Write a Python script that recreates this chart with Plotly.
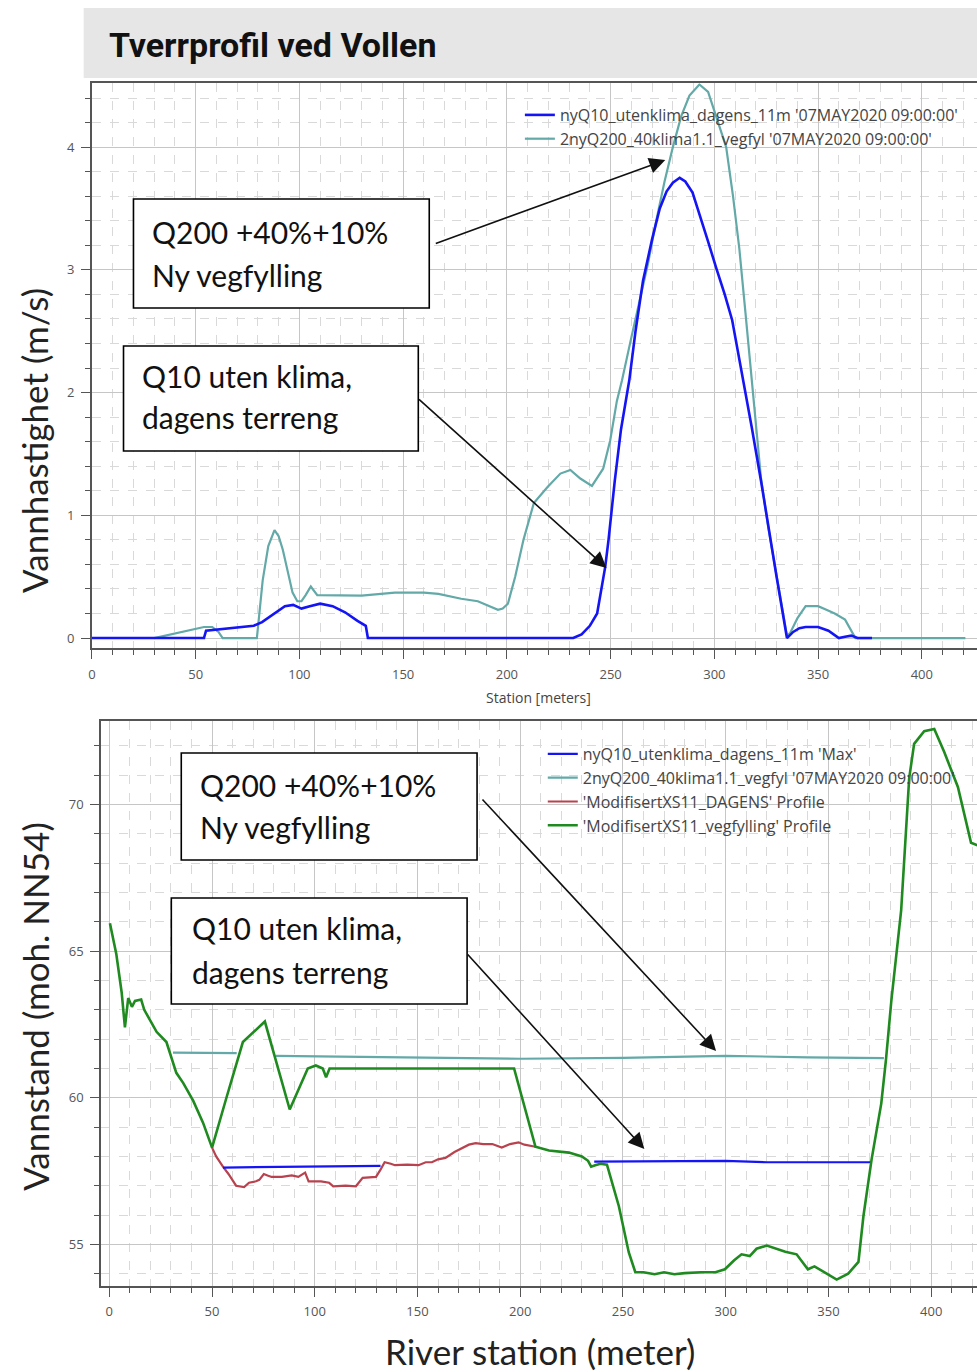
import plotly.graph_objects as go

# ---------------- Top chart: velocity across section ----------------
top_q10_station = [0, 54, 55, 60, 70, 78, 82, 88, 93, 97, 101, 105, 110, 116, 122, 128, 132, 133,
                   232, 236, 240, 243.5, 247.4, 249, 252, 255, 259, 262, 265.6, 270, 273.7, 277, 280,
                   283.3, 286, 289.5, 293, 297, 301, 305, 308.6, 314, 318, 322.5, 326, 330, 333, 335,
                   338, 341, 344, 350, 355, 360, 363, 366, 369, 376]
top_q10_velocity = [0, 0, 0.06, 0.07, 0.09, 0.10, 0.13, 0.20, 0.26, 0.27, 0.24, 0.26, 0.28, 0.26, 0.21,
                    0.14, 0.10, 0,
                    0, 0.03, 0.10, 0.20, 0.58, 0.80, 1.28, 1.70, 2.10, 2.50, 2.91, 3.25, 3.50, 3.64, 3.71,
                    3.75, 3.72, 3.63, 3.45, 3.23, 3.01, 2.80, 2.59, 2.10, 1.72, 1.28, 0.90, 0.50, 0.20, 0,
                    0.05, 0.08, 0.09, 0.09, 0.06, 0.0, 0.01, 0.02, 0.0, 0.0]

top_q200_station = [30, 35, 40, 45, 50, 54, 58, 61, 63, 79.5, 82.3, 85, 88, 90, 92, 94.5, 96.7, 99, 101,
                    103, 105.5, 108.6, 115, 130, 146, 160, 167, 178, 186, 192, 195.7, 198, 200.5, 204,
                    208, 213, 219.6, 225.8, 230.6, 235.4, 241, 246.4, 249.8, 253, 255.5, 260, 264, 268,
                    272, 276, 280, 284, 288, 292.8, 297, 301, 305.7, 309, 312, 315, 318, 322.5, 326, 330,
                    333, 335, 336.5, 340, 344, 350, 354, 358, 363, 368, 421]
top_q200_velocity = [0, 0.02, 0.04, 0.06, 0.08, 0.09, 0.09, 0.05, 0, 0, 0.47, 0.75, 0.88, 0.83, 0.72,
                     0.52, 0.37, 0.30, 0.30, 0.35, 0.42, 0.35, 0.35, 0.345, 0.37, 0.37, 0.36, 0.32, 0.30,
                     0.26, 0.23, 0.24, 0.28, 0.50, 0.80, 1.10, 1.23, 1.34, 1.37, 1.30, 1.24, 1.38, 1.61,
                     1.93, 2.10, 2.45, 2.75, 3.05, 3.40, 3.72, 4.00, 4.25, 4.42, 4.51, 4.45, 4.25, 4.00,
                     3.60, 3.18, 2.65, 2.10, 1.30, 0.90, 0.50, 0.20, 0.02, 0.04, 0.16, 0.26, 0.26, 0.23,
                     0.20, 0.15, 0.0, 0.0]

top_names = ["nyQ10_utenklima_dagens_11m '07MAY2020 09:00:00'",
             "2nyQ200_40klima1.1_vegfyl '07MAY2020 09:00:00'"]

# ---------------- Bottom chart: water levels and terrain ----------------
veg_station = [0.3, 3.4, 6, 7.6, 9.2, 11, 12.5, 15.5, 17, 19, 23, 27.8, 30, 32.6, 36, 40.8, 45.6, 50,
               57, 65, 75.7, 87.8, 96.6, 100.5, 103.9, 105.5, 107.2, 197, 207.4, 214, 223.7, 230, 233,
               234.5, 236.5, 239, 242.2, 248, 252.8, 256, 260, 265.4, 270, 275, 280, 288, 295, 299.6,
               304, 307.7, 311.7, 315, 320, 325, 329, 334.5, 340, 343.2, 348, 354, 359.6, 364.6, 367,
               371, 375.7, 378, 380.6, 385.4, 389.3, 391.7, 396.6, 401.5, 406.3, 413, 419.4, 423]
veg_elev = [65.95, 64.9, 63.6, 62.4, 63.4, 63.1, 63.3, 63.35, 63.0, 62.75, 62.25, 61.9, 61.4, 60.85,
            60.5, 59.9, 59.15, 58.3, 60.0, 61.9, 62.6, 59.6, 61.0, 61.1, 61.0, 60.7, 61.0, 61.0, 58.33,
            58.2, 58.13, 58.0, 57.85, 57.65, 57.7, 57.75, 57.72, 56.3, 54.73, 54.05, 54.05, 53.98,
            54.05, 53.98, 54.02, 54.05, 54.05, 54.15, 54.45, 54.66, 54.6, 54.85, 54.96, 54.85, 54.75,
            54.66, 54.15, 54.25, 54.05, 53.8, 54.0, 54.4, 55.95, 57.9, 59.8, 61.3, 63.3, 66.4, 70.9,
            72.07, 72.5, 72.58, 71.8, 70.6, 68.7, 68.6]

dagens_station = [50, 52, 55.3, 58, 61.7, 65.6, 68, 71.4, 73, 75.2, 77, 79, 84, 88.8, 92, 95.3, 97, 103,
                  107, 109, 115, 120, 123.3, 129.8, 132, 134, 137, 139, 145, 150.5, 154, 157, 160, 163.6,
                  168, 171.8, 175, 178.3, 182, 186.4, 189, 191, 195, 199.2, 202, 205.7, 207.4]
dagens_elev = [58.3, 58.0, 57.65, 57.4, 57.0, 56.95, 57.1, 57.15, 57.2, 57.4, 57.35, 57.3, 57.3, 57.35,
               57.3, 57.45, 57.15, 57.15, 57.1, 56.98, 57.0, 56.98, 57.27, 57.3, 57.55, 57.8, 57.75, 57.7,
               57.72, 57.7, 57.8, 57.8, 57.9, 57.95, 58.15, 58.3, 58.4, 58.45, 58.42, 58.42, 58.35, 58.3,
               58.42, 58.48, 58.4, 58.35, 58.33]

ws_q10_station = [55.3, 132, None, 236, 300, 320, 371]
ws_q10_elev = [57.62, 57.68, None, 57.82, 57.85, 57.8, 57.8]

ws_q200_station = [31, 62, None, 81, 200, 250, 300, 340, 377]
ws_q200_elev = [61.54, 61.52, None, 61.43, 61.33, 61.36, 61.43, 61.38, 61.35]

bottom_names = ["nyQ10_utenklima_dagens_11m 'Max'",
                "2nyQ200_40klima1.1_vegfyl '07MAY2020 09:00:00'",
                "'ModifisertXS11_DAGENS' Profile",
                "'ModifisertXS11_vegfylling' Profile"]

title_text = "Tverrprofil ved Vollen"
box_q200 = ["Q200 +40%+10%", "Ny vegfylling"]
box_q10 = ["Q10 uten klima,", "dagens terreng"]
axis_titles = ["Vannhastighet (m/s)", "Station [meters]", "Vannstand (moh. NN54)", "River station (meter)"]

# ---------------- Figure ----------------
W, H = 977, 1372
def px(x):
    return x / W
def py(y):
    return 1 - y / H

BLUE = "#1414f5"
TEAL = "#62a9a8"
RED = "#b8434f"
GREEN = "#1f8a1f"

fig = go.Figure()

fig.add_trace(go.Scatter(x=top_q200_station, y=top_q200_velocity, mode="lines", name=top_names[1],
                         line=dict(color=TEAL, width=2.2), xaxis="x", yaxis="y",
                         legend="legend", legendrank=2))
fig.add_trace(go.Scatter(x=top_q10_station, y=top_q10_velocity, mode="lines", name=top_names[0],
                         line=dict(color=BLUE, width=2.6), xaxis="x", yaxis="y",
                         legend="legend", legendrank=1))

fig.add_trace(go.Scatter(x=dagens_station, y=dagens_elev, mode="lines", name=bottom_names[2],
                         line=dict(color=RED, width=2.2), xaxis="x2", yaxis="y2",
                         legend="legend2", legendrank=3))
fig.add_trace(go.Scatter(x=ws_q200_station, y=ws_q200_elev, mode="lines", name=bottom_names[1],
                         line=dict(color=TEAL, width=2.2), xaxis="x2", yaxis="y2",
                         legend="legend2", legendrank=2, connectgaps=False))
fig.add_trace(go.Scatter(x=ws_q10_station, y=ws_q10_elev, mode="lines", name=bottom_names[0],
                         line=dict(color=BLUE, width=2.2), xaxis="x2", yaxis="y2",
                         legend="legend2", legendrank=1, connectgaps=False))
fig.add_trace(go.Scatter(x=veg_station, y=veg_elev, mode="lines", name=bottom_names[3],
                         line=dict(color=GREEN, width=2.6), xaxis="x2", yaxis="y2",
                         legend="legend2", legendrank=4))

tickfont = dict(family="Open Sans", size=13, color="#555")

def axis_style(dtick, minor_dtick):
    return dict(
        showline=True, linecolor="#555", linewidth=2,
        ticks="outside", ticklen=9, tickwidth=1.3, tickcolor="#555",
        showgrid=True, gridcolor="#c6c6c6", gridwidth=1, zeroline=False,
        tickfont=tickfont, dtick=dtick, tick0=0, ticklabelstandoff=4,
        minor=dict(ticks="outside", ticklen=5, tickwidth=1.1, tickcolor="#555", dtick=minor_dtick,
                   showgrid=True, gridcolor="#d9d9d9", griddash="dash", gridwidth=1),
    )

xa = axis_style(50, 10); xa.update(domain=[px(88.3), 1], range=[0, 426.6], anchor="y", mirror=True)
ya = axis_style(1, 0.2); ya.update(domain=[py(648), py(83.3)], range=[-0.081, 4.52], anchor="x")
xa2 = axis_style(50, 10); xa2.update(domain=[px(97.7), 1], range=[-3.9, 422.3], anchor="y2", mirror=True)
ya2 = axis_style(5, 1); ya2.update(domain=[py(1285.7), py(721)], range=[53.59, 72.85], anchor="x2")

legfont = dict(family="Open Sans", size=16, color="#444")

fig.update_layout(
    width=W, height=H, autosize=False,
    margin=dict(l=0, r=0, t=0, b=0),
    paper_bgcolor="white", plot_bgcolor="white",
    xaxis=xa, yaxis=ya, xaxis2=xa2, yaxis2=ya2,
    legend=dict(x=px(518), y=py(98), xanchor="left", yanchor="top", bgcolor="rgba(0,0,0,0)",
                font=legfont, itemwidth=30, tracegroupgap=0),
    legend2=dict(x=px(541), y=py(737), xanchor="left", yanchor="top", bgcolor="rgba(0,0,0,0)",
                 font=legfont, itemwidth=30, tracegroupgap=0),
)

shapes = []
# Title band
shapes.append(dict(type="rect", xref="paper", yref="paper", x0=px(80), x1=1.0, y0=py(78), y1=py(8),
                   fillcolor="#e6e6e6", line=dict(width=0), layer="below"))
# Text boxes
boxes = [(130, 199, 427, 308), (120, 346, 416, 451), (178, 753, 475, 860), (168, 898, 465, 1004)]
for (x0, y0, x1, y1) in boxes:
    shapes.append(dict(type="rect", xref="paper", yref="paper", x0=px(x0), x1=px(x1), y0=py(y1), y1=py(y0),
                       fillcolor="white", line=dict(color="black", width=1.6), layer="above"))
fig.update_layout(shapes=shapes)

ann = []
ann.append(dict(text="<b>" + title_text + "</b>", x=px(103), y=py(45), xref="paper", yref="paper",
                xanchor="left", yanchor="middle", showarrow=False,
                font=dict(family="Roboto", size=34, color="#111")))

boxfont = dict(family="Lato", size=30, color="#111")
box_text_pos = [(147, 232, 275, box_q200), (137, 376, 417, box_q10),
                (195, 785, 827, box_q200), (187, 928, 972, box_q10)]
for (tx, y1, y2, lines) in box_text_pos:
    for yy, t in zip((y1, y2), lines):
        ann.append(dict(text=t, x=px(tx), y=py(yy), xref="paper", yref="paper", xanchor="left",
                        yanchor="middle", showarrow=False, font=boxfont))

arrows = [((433, 244), (664, 160)), ((416, 398), (605, 568)),
          ((480, 798), (715, 1051)), ((465, 953), (643, 1149))]
for (tail, head) in arrows:
    ann.append(dict(text="", x=px(head[0]), y=py(head[1]), xref="paper", yref="paper",
                    ax=tail[0] - head[0], ay=tail[1] - head[1], axref="pixel", ayref="pixel",
                    showarrow=True, arrowhead=2, arrowsize=2.0, arrowwidth=1.6, arrowcolor="#111",
                    standoff=0, startstandoff=0))

titlefont = dict(family="Lato", size=35, color="#222")
ann.append(dict(text=axis_titles[0], x=px(30), y=py(440), xref="paper", yref="paper", textangle=-90,
                showarrow=False, xanchor="center", yanchor="middle", font=titlefont))
ann.append(dict(text=axis_titles[1], x=px(537), y=py(697), xref="paper", yref="paper",
                showarrow=False, xanchor="center", yanchor="middle",
                font=dict(family="Open Sans", size=14, color="#444")))
ann.append(dict(text=axis_titles[2], x=px(31), y=py(1006), xref="paper", yref="paper", textangle=-90,
                showarrow=False, xanchor="center", yanchor="middle", font=titlefont))
ann.append(dict(text=axis_titles[3], x=px(538), y=py(1351), xref="paper", yref="paper",
                showarrow=False, xanchor="center", yanchor="middle",
                font=dict(family="Lato", size=35, color="#222")))
fig.update_layout(annotations=ann)

fig.write_html("out.html", config={"displayModeBar": False},
               post_script="document.body.style.margin='0';document.body.style.padding='0';")
